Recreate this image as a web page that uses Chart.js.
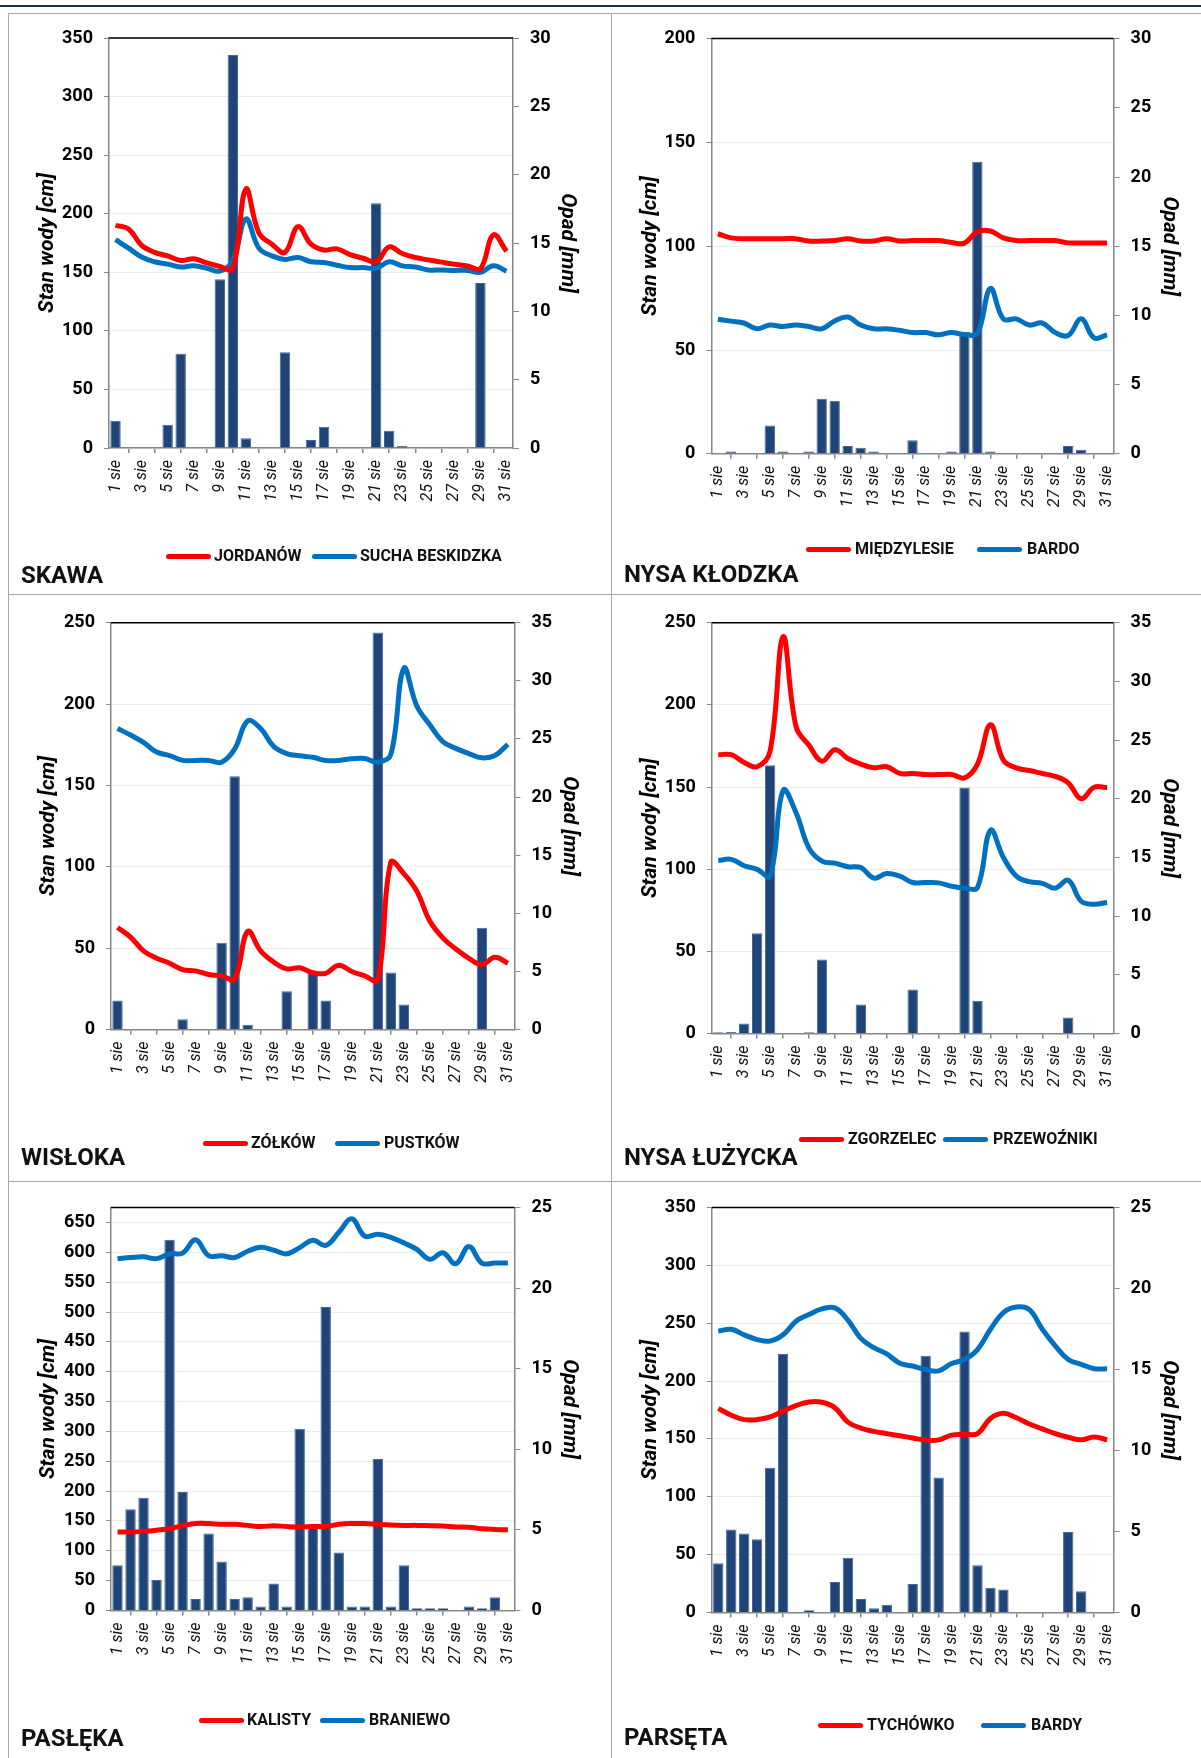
<!DOCTYPE html>
<html><head><meta charset="utf-8">
<script src="https://cdn.jsdelivr.net/npm/chart.js@4.4.1/dist/chart.umd.min.js"></script>
<style>
html,body{margin:0;padding:0;background:#fff;}
body{width:1201px;height:1758px;position:relative;overflow:hidden;font-family:Roboto,'Open Sans',sans-serif;}
.topbar{position:absolute;left:0;top:5px;width:1201px;height:2px;background:#17325c;}
.hl{position:absolute;height:1px;background:#a6a6a6;z-index:5;}
.vl{position:absolute;width:1px;background:#a6a6a6;z-index:5;}
.cw{position:absolute;}
.leg{position:absolute;font-weight:700;font-size:16px;color:#111;line-height:18px;white-space:nowrap;}
.sw{position:absolute;height:5px;border-radius:3px;}
.ttl{position:absolute;font-weight:700;font-size:24px;color:#111;line-height:28px;white-space:nowrap;}
</style></head><body>
<div class="topbar"></div>
<div class="hl" style="left:8px;top:13px;width:1193px"></div>
<div class="hl" style="left:8px;top:594px;width:1193px"></div>
<div class="hl" style="left:8px;top:1181px;width:1193px"></div>
<div class="vl" style="left:8px;top:13px;height:1745px"></div>
<div class="vl" style="left:611px;top:13px;height:1745px"></div>
<div id="root"></div>
<script>
// ---- categories ----
const days = ["1 sie","2 sie","3 sie","4 sie","5 sie","6 sie","7 sie","8 sie","9 sie","10 sie","11 sie","12 sie","13 sie","14 sie","15 sie","16 sie","17 sie","18 sie","19 sie","20 sie","21 sie","22 sie","23 sie","24 sie","25 sie","26 sie","27 sie","28 sie","29 sie","30 sie","31 sie"];

// ---- SKAWA ----
const jordanow = [190,187,173,167,164,160,161.6,158,155,153,221,183.6,174,167,189,174,169,170,165,162,159,171.6,166,162.6,160.6,158.7,156.8,155.5,153,182,168];
const suchaBeskidzka = [177.8,170.6,163,159,157,154.5,155.5,153.5,151,160,195.5,170.6,164,161,162.6,159,158.4,156,154,154,153.5,159,155.5,154.5,152,152,151.6,151.6,150,155.5,151];
const opadSkawa = [2.0,0,0,0,1.7,6.9,0,0,12.35,28.75,0.72,0,0,7.0,0,0.58,1.55,0,0,0,17.9,1.27,0.17,0,0,0,0,0,12.08,0,0];

// ---- NYSA KŁODZKA ----
const miedzylesie = [106,104,103.6,103.6,103.6,103.6,103.6,102.5,102.5,102.7,103.6,102.5,102.5,103.6,102.5,102.7,102.7,102.7,101.8,101.5,107,107.3,104,102.7,102.7,102.7,102.7,101.6,101.6,101.6,101.6];
const bardo = [64.8,63.9,63,60.2,62,61.3,62,61.3,60.2,64,65.9,62,60.2,60.2,59.5,58.4,58.4,57.3,58.4,57.5,58,79.6,65,65,62,63,58.4,57,65,55.8,57.3];
const opadNysaKl = [0,0.16,0,0,2.05,0.16,0,0.16,3.97,3.83,0.57,0.44,0.16,0,0,0.98,0,0,0.16,8.8,21.1,0.16,0,0,0,0,0,0.57,0.3,0,0];

// ---- WISŁOKA ----
const zolkow = [62.7,56.8,48.3,43.7,40.7,36.8,36,33.8,32.9,31,60.2,48.3,41.4,37.2,37.9,34.9,34.5,39.5,35.6,32.9,30.3,102.7,95.8,85,66.6,56.3,49.4,43.7,39.8,44.3,40.7];
const pustkow = [185,181,176.5,170.5,168.4,165.4,165.4,165.4,164.3,172.3,189.6,185,174,169.6,168.2,167.3,165.4,165.4,166.4,166.6,164.3,168.9,222,198.8,187.3,177,172.8,169.6,167,168.4,175.3];
const opadWisloka = [2.48,0,0,0,0,0.87,0,0,7.46,21.8,0.39,0,0,3.28,0,4.85,2.48,0,0,0,34.16,4.89,2.15,0,0,0,0,0,8.75,0,0];

// ---- NYSA ŁUŻYCKA ----
const zgorzelec = [169.7,169.7,165,162.4,172,241.4,186.8,175.4,165.8,172.7,167.4,164,161.7,162.4,158.3,158.3,157.6,157.6,157.6,155.6,164,187.9,166.3,161.7,160.1,158.3,156.5,152.6,142.9,149.9,149.7];
const przewozniki = [105.3,106,102.1,99.9,95.8,148,134.4,112.8,104.9,103.7,101.5,101,94.6,97.4,95.8,91.9,91.9,91.7,89.6,88.5,88.9,123.7,107.1,95.8,92.4,91.4,88.5,93.3,80.5,78.7,79.8];
const opadNysaLu = [0.1,0.13,0.86,8.54,22.87,0,0,0.1,6.3,0,0,2.48,0,0,0,3.76,0,0,0,20.96,2.8,0,0,0,0,0,0,1.37,0,0,0];

// ---- PASŁĘKA ----
const kalisty = [131.5,131.5,132.7,134.6,137,142,145.7,145.7,144.4,144.4,142.6,140.7,142,140.7,140,140.7,140.7,144.4,145.7,145.7,144.4,143.2,142.6,142.6,142,141.4,140,139.5,137,135.8,135.2];
const braniewo = [589.5,591.4,592.6,589.5,597.5,598.8,621,594.4,594.4,591.4,601.9,608.6,603.7,597.5,608,620.4,611.7,633.3,656.2,627.2,630.2,625.3,616,605,588.3,599.4,580.9,609.9,582,582,582];
const opadPasleka = [2.81,6.29,7.0,1.9,23.0,7.35,0.71,4.78,3.04,0.71,0.82,0.25,1.67,0.25,11.28,5.2,18.83,3.6,0.25,0.25,9.4,0.25,2.81,0.14,0.14,0.14,0,0.25,0.14,0.82,0];

// ---- PARSĘTA ----
const tychowko = [176.3,170.5,166.7,166.7,169,174,178.8,182,181.7,176.9,164.5,159.4,156.5,154.6,152.7,150.8,148.9,149.2,153.3,154,154.6,167.7,172.1,168.3,162.9,158.7,154.6,151.4,149.2,151.7,149.2];
const bardy = [243.2,244.8,240,235.9,234.6,240,251.8,257.6,262.4,263.3,252.8,236.9,228.9,223.5,215.5,213,210,208.8,215.2,218.7,227.3,244.8,259.2,264,261.7,244.8,230.5,218.7,214.5,210.7,210.7];
const opadParseta = [3.03,5.12,4.87,4.51,8.93,15.96,0,0.14,0,1.87,3.37,0.82,0.25,0.48,0,1.75,15.85,8.33,0,17.35,2.91,1.53,1.41,0,0,0,0,4.96,1.3,0,0];

// ---- axis ranges / names ----
const leftMax = [350,200,250,250,675,350];
const rightMax = [30,30,35,35,25,25];
const rivers = ["SKAWA","NYSA KŁODZKA","WISŁOKA","NYSA ŁUŻYCKA","PASŁĘKA","PARSĘTA"];
const stationsRed = ["JORDANÓW","MIĘDZYLESIE","ZÓŁKÓW","ZGORZELEC","KALISTY","TYCHÓWKO"];
const stationsBlue = ["SUCHA BESKIDZKA","BARDO","PUSTKÓW","PRZEWOŹNIKI","BRANIEWO","BARDY"];
const redSeries = [jordanow,miedzylesie,zolkow,zgorzelec,kalisty,tychowko];
const blueSeries = [suchaBeskidzka,bardo,pustkow,przewozniki,braniewo,bardy];
const rainSeries = [opadSkawa,opadNysaKl,opadWisloka,opadNysaLu,opadPasleka,opadParseta];

// ---- layout (positions only) ----
const layoutSpec = [
 {x:9,y:13,w:602,h:581,pt:25,lw:100,rw:98,xh:146,ltp:25.9,rtp:31.4,
  leg:{y:556,r:166,rt:214,b:312,bt:360}, ttl:{x:21,y:575}},
 {x:611,y:13,w:590,h:581,pt:25.6,lw:100.4,rw:87.4,xh:140.2,ltp:27,rtp:18.9,
  leg:{y:549,r:806,rt:855,b:977,bt:1027}, ttl:{x:624,y:574}},
 {x:9,y:594,w:602,h:586,pt:28.8,lw:102,rw:96.6,xh:150.6,ltp:27.1,rtp:29.4,
  leg:{y:1143,r:203,rt:251,b:335,bt:384}, ttl:{x:21,y:1157}},
 {x:611,y:594,w:590,h:586,pt:28.8,lw:100.8,rw:87.4,xh:146.5,ltp:27,rtp:18.9,
  leg:{y:1139,r:799,rt:848,b:943,bt:993}, ttl:{x:624,y:1157}},
 {x:9,y:1180,w:602,h:578,pt:27.6,lw:102,rw:96.6,xh:147.5,ltp:27.1,rtp:29.4,
  leg:{y:1720,r:199,rt:247,b:320,bt:369}, ttl:{x:21,y:1738}},
 {x:611,y:1180,w:590,h:578,pt:27.6,lw:100.8,rw:87.4,xh:145.6,ltp:27,rtp:18.9,
  leg:{y:1725,r:818,rt:867,b:981,bt:1031}, ttl:{x:624,y:1737}}
];

const RED='#FF0000', BLUE='#0070C0', BAR='#1F4477', AXIS='#868686';
const FONT='Roboto, "Open Sans", sans-serif';

const topBorder = {id:'topBorder', afterDraw(c){
  const {ctx, chartArea:a} = c;
  ctx.save(); ctx.strokeStyle='#000'; ctx.lineWidth=1.5;
  ctx.beginPath(); ctx.moveTo(a.left,a.top); ctx.lineTo(a.right,a.top); ctx.stroke();
  ctx.restore();
}};

const root = document.getElementById('root');
function addEl(cls, style, text){
  const d=document.createElement('div'); d.className=cls;
  Object.assign(d.style, style); if(text) d.textContent=text; root.appendChild(d); return d;
}

layoutSpec.forEach((L,i)=>{
  const wrap = addEl('cw',{left:L.x+'px',top:L.y+'px',width:L.w+'px',height:L.h+'px'});
  const cv = document.createElement('canvas'); cv.width=L.w; cv.height=L.h;
  cv.style.width=L.w+'px'; cv.style.height=L.h+'px'; wrap.appendChild(cv);

  new Chart(cv,{
    type:'bar',
    data:{labels:days, datasets:[
      {type:'line',label:stationsRed[i],data:redSeries[i],borderColor:RED,backgroundColor:RED,borderWidth:5,pointRadius:0,tension:0.4,yAxisID:'y',order:0},
      {type:'line',label:stationsBlue[i],data:blueSeries[i],borderColor:BLUE,backgroundColor:BLUE,borderWidth:5,pointRadius:0,tension:0.4,yAxisID:'y',order:1},
      {type:'bar',label:'Opad',data:rainSeries[i],backgroundColor:BAR,borderColor:'#46679a',borderWidth:1,yAxisID:'y2',order:2,barPercentage:0.8,categoryPercentage:1}
    ]},
    options:{
      responsive:false, animation:false, events:[],
      layout:{padding:{top:L.pt,left:0,right:0,bottom:0}},
      plugins:{legend:{display:false},tooltip:{enabled:false}},
      scales:{
        x:{offset:true,
           grid:{offset:true,drawOnChartArea:false,drawTicks:true,tickLength:5,tickColor:AXIS,lineWidth:1.5,color:AXIS},
           border:{color:AXIS,width:1.5},
           ticks:{autoSkip:false,minRotation:90,maxRotation:90,padding:7,color:'#111',
                  font:{family:FONT,style:'italic',size:16},
                  callback:(v,idx)=> idx%2===0 ? days[idx] : null},
           afterFit:s=>{s.height=L.xh;}},
        y:{position:'left',min:0,max:leftMax[i],
           ticks:{stepSize:50,includeBounds:false,padding:11,color:'#000',font:{family:FONT,weight:'bold',size:18}},
           grid:{color:'#ececec',tickColor:AXIS,tickLength:5,lineWidth:1},
           border:{color:AXIS,width:1.5},
           title:{display:true,text:'Stan wody [cm]',color:'#000',font:{family:FONT,weight:'bold',style:'italic',size:21},padding:{top:L.ltp,bottom:0}},
           afterFit:s=>{s.width=L.lw;}},
        y2:{position:'right',min:0,max:rightMax[i],
           ticks:{stepSize:5,padding:11,color:'#000',font:{family:FONT,weight:'bold',size:18}},
           grid:{drawOnChartArea:false,tickColor:AXIS,tickLength:6,color:AXIS},
           border:{color:AXIS,width:1.5},
           title:{display:true,text:'Opad [mm]',color:'#000',font:{family:FONT,weight:'bold',style:'italic',size:21},padding:{top:L.rtp,bottom:0}},
           afterFit:s=>{s.width=L.rw;}}
      }
    },
    plugins:[topBorder]
  });

  const g=L.leg;
  addEl('sw',{left:g.r+'px',top:(g.y-2.5)+'px',width:'45px',background:RED});
  addEl('leg',{left:g.rt+'px',top:(g.y-9)+'px'},stationsRed[i]);
  addEl('sw',{left:g.b+'px',top:(g.y-2.5)+'px',width:'45px',background:BLUE});
  addEl('leg',{left:g.bt+'px',top:(g.y-9)+'px'},stationsBlue[i]);
  addEl('ttl',{left:L.ttl.x+'px',top:(L.ttl.y-14)+'px'},rivers[i]);
});
</script>
</body></html>
